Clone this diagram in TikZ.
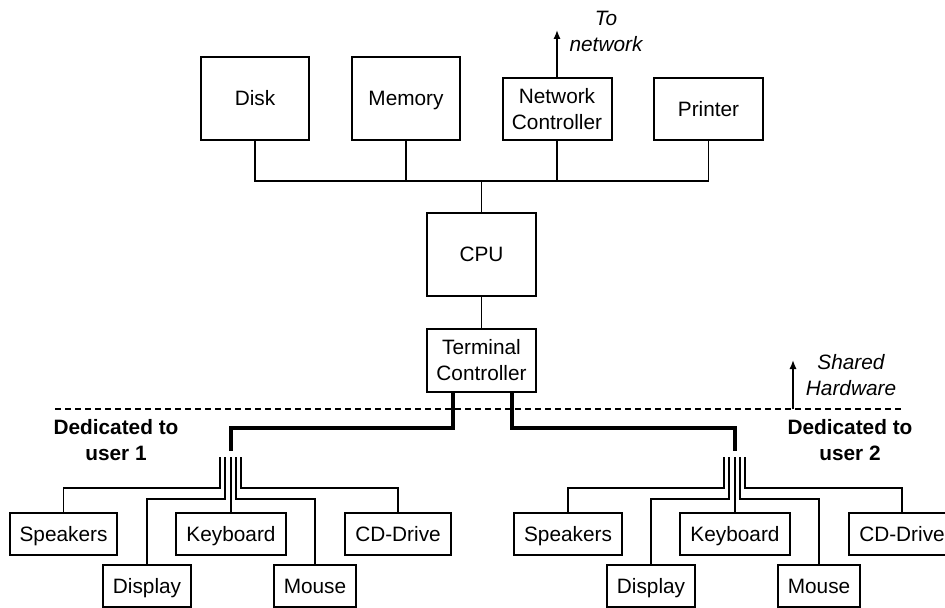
\documentclass[tikz,border=0pt]{standalone}
\usepackage{fontspec}
\setmainfont{Liberation Sans}
\usetikzlibrary{arrows.meta}

\begin{document}
\begin{tikzpicture}[
  x=0.5pt,y=-0.5pt,
  unit/.style={draw=black,line width=1pt,minimum width=54pt,minimum height=41.5pt,text height=7.5pt,text depth=0pt,font=\fontsize{10.4}{13}\selectfont},
  ctrl/.style={draw=black,line width=1pt,minimum width=54.5pt,minimum height=31pt,align=center,font=\fontsize{10.4}{13}\selectfont},
  device/.style={draw=black,line width=1pt,inner xsep=5pt,minimum height=21pt,text height=7.5pt,text depth=0pt,font=\fontsize{10.4}{13}\selectfont},
  wire/.style={line width=0.9pt,color=black},
  cable/.style={line width=2pt,color=black},
  lead/.style={line width=0.6pt,color=black},
  divider/.style={line width=1pt,dash pattern=on 3pt off 2pt},
  flow/.style={-{Latex[length=4.5pt,width=3.6pt]},line width=0.8pt,color=black},
  note/.style={align=center,font=\fontsize{10.4}{13}\selectfont\itshape},
  tag/.style={align=center,font=\fontsize{10.4}{13}\selectfont\bfseries}
]
\useasboundingbox (0,0) rectangle (945,608);

% shared hardware
\node[unit] (disk) at (255,98.5) {Disk};
\node[unit] (mem) at (406,98.5) {Memory};
\node[ctrl] (netctl) at (557,109) {Network\\Controller};
\node[unit,minimum width=54.5pt,minimum height=31pt] (printer) at (708.5,109) {Printer};
\node[unit,minimum width=54.5pt] (cpu) at (481.5,254.5) {CPU};
\node[ctrl] (term) at (481.5,360.5) {Terminal\\Controller};
\coordinate (bus) at (481.5,181);
\coordinate (net) at (557,30);

\draw[wire] (disk.south) |- (printer.south |- bus) -- (printer.south);
\draw[wire] (mem.south) -- (mem.south |- bus);
\draw[wire] (netctl.south) -- (netctl.south |- bus);
\draw[wire] (bus) -- (cpu.north);
\draw[wire] (cpu.south) -- (term.north);
\draw[flow] (netctl.north) -- (net);
\node[note] (tonet) at (606,31) {To\\network};

% boundary
\coordinate (divL) at (55,409);
\coordinate (divR) at (903,409);
\coordinate (shrbase) at (793,409);
\coordinate (shrtip) at (793,360);
\draw[divider] (divL) -- (divR);
\draw[flow] (shrbase) -- (shrtip);
\node[note] (shared) at (851,375) {Shared\\Hardware};
\node[tag] (user1) at (116,440) {Dedicated to\\user 1};
\node[tag] (user2) at (850,440) {Dedicated to\\user 2};

% user 1
\node[device] (spk1) at (63.5,534) {Speakers};
\node[device] (kbd1) at (231,534) {Keyboard};
\node[device] (cd1) at (398,534) {CD-Drive};
\node[device] (disp1) at (147,586) {Display};
\node[device] (mouse1) at (315,586) {Mouse};
\coordinate (bend1) at (231,428);
\coordinate (drop1) at (231,451);
\coordinate (hub1) at (231,457);

% user 2
\node[device] (spk2) at (568,534) {Speakers};
\node[device] (kbd2) at (735,534) {Keyboard};
\node[device] (cd2) at (902,534) {CD-Drive};
\node[device] (disp2) at (651,586) {Display};
\node[device] (mouse2) at (819,586) {Mouse};
\coordinate (bend2) at (735,428);
\coordinate (drop2) at (735,451);
\coordinate (hub2) at (735,457);

\draw[cable] ([xshift=-14.5pt]term.south) |- (bend1) -- (drop1);
\draw[cable] ([xshift=15pt]term.south) |- (bend2) -- (drop2);

\draw[lead] ([xshift=-5.5pt]hub1) |- ([yshift=12pt]spk1.north) -- (spk1.north);
\draw[lead] ([xshift=-3pt]hub1) |- ([yshift=32.5pt]disp1.north) -- (disp1.north);
\draw[lead] (hub1) -- (kbd1.north);
\draw[lead] ([xshift=2.5pt]hub1) |- ([yshift=32.5pt]mouse1.north) -- (mouse1.north);
\draw[lead] ([xshift=5pt]hub1) |- ([yshift=12pt]cd1.north) -- (cd1.north);

\draw[lead] ([xshift=-5.5pt]hub2) |- ([yshift=12pt]spk2.north) -- (spk2.north);
\draw[lead] ([xshift=-3pt]hub2) |- ([yshift=32.5pt]disp2.north) -- (disp2.north);
\draw[lead] (hub2) -- (kbd2.north);
\draw[lead] ([xshift=2.5pt]hub2) |- ([yshift=32.5pt]mouse2.north) -- (mouse2.north);
\draw[lead] ([xshift=5pt]hub2) |- ([yshift=12pt]cd2.north) -- (cd2.north);
\end{tikzpicture}
\end{document}
